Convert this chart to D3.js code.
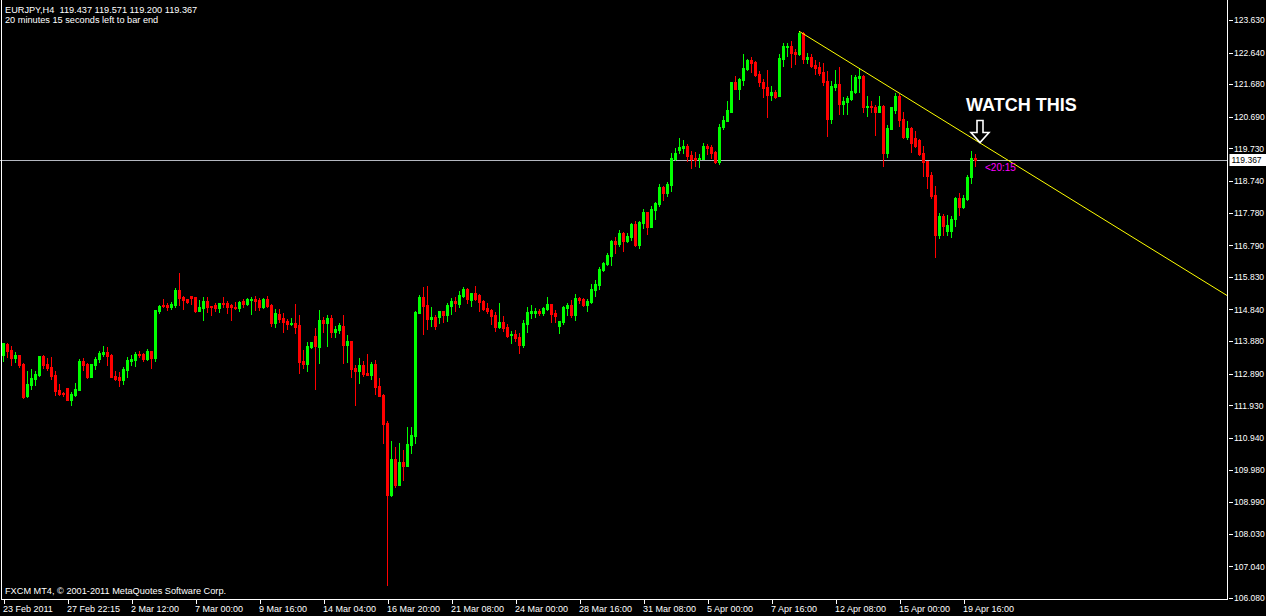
<!DOCTYPE html>
<html><head><meta charset="utf-8">
<script src="https://cdn.jsdelivr.net/npm/d3@7"></script>
<style>html,body{margin:0;padding:0;background:#000;overflow:hidden}</style>
</head><body>
<svg id="c" width="1266" height="616"></svg>
<script>
const symbol = "EURJPY,H4";
const lastBar = [119.437, 119.571, 119.200, 119.367];
const timerText = "20 minutes 15 seconds left to bar end";
const timeLeft = "<20:15";
const copyright = "FXCM MT4, \u00a9 2001-2011 MetaQuotes Software Corp.";
const note = "WATCH THIS";

const opens = [
113.45,113.79,113.60,113.36,113.45,113.18,112.20,112.55,112.73,112.84,
113.42,113.18,113.08,112.85,112.40,112.30,112.46,112.10,112.25,112.40,
113.27,113.18,112.79,113.15,113.33,113.48,113.54,113.45,112.82,112.79,
112.70,113.00,113.27,113.30,113.48,113.48,113.33,113.57,113.36,114.79,
114.98,114.98,114.91,114.98,115.42,115.21,115.15,115.24,115.21,114.79,
114.88,115.09,114.94,114.97,114.88,115.03,115.03,114.97,114.91,114.88,
115.09,115.00,115.12,115.15,115.12,114.91,115.15,114.97,114.43,114.70,
114.58,114.49,114.40,114.43,114.37,113.27,113.18,113.69,114.05,113.69,
114.52,114.43,114.58,114.17,114.22,114.34,113.75,113.87,113.06,112.97,
113.15,112.91,112.85,113.18,112.52,112.25,111.38,109.22,110.30,109.52,
110.21,110.09,110.72,110.99,114.73,115.21,114.97,114.55,114.61,114.61,
114.79,114.67,114.94,115.09,115.00,115.24,115.45,115.12,115.33,115.29,
115.09,114.88,114.82,114.67,114.31,114.46,114.31,114.07,114.10,114.01,
113.77,114.40,114.73,114.73,114.79,114.73,114.85,115.00,114.73,114.34,
114.46,114.88,114.97,114.67,115.20,115.17,114.97,115.06,115.44,115.59,
116.04,116.22,116.46,116.93,116.84,117.17,116.93,117.05,117.44,116.81,
117.47,117.80,117.35,117.86,118.04,118.57,118.37,118.63,119.41,119.68,
119.74,119.80,119.53,119.44,119.41,119.41,119.80,119.77,119.62,119.32,
120.39,120.57,120.84,121.74,121.53,121.80,122.15,122.42,122.36,121.98,
121.74,121.59,121.35,121.44,121.32,122.45,122.81,122.84,122.66,122.60,
123.23,122.45,122.51,122.27,122.21,122.04,121.77,120.63,121.59,121.68,
121.08,121.14,121.23,121.44,121.86,121.92,120.99,121.02,120.99,120.84,
121.02,119.59,120.33,120.90,121.32,120.63,120.07,120.36,120.04,119.98,
119.59,119.35,118.93,118.31,117.11,117.68,117.23,117.23,117.59,118.22,
117.95,118.19,118.87,119.437];

const highs = [
113.82,113.83,113.73,113.54,113.47,113.22,112.97,113.03,112.97,113.44,
113.45,113.36,113.39,112.97,112.58,112.35,112.46,112.34,112.61,113.33,
113.36,113.21,113.19,113.39,113.57,113.72,113.69,113.48,112.97,112.94,
113.09,113.39,113.45,113.54,113.57,113.51,113.63,113.58,114.82,114.97,
115.15,115.03,115.06,115.48,115.96,115.26,115.17,115.25,115.23,115.12,
115.21,115.21,114.95,115.03,115.04,115.21,115.09,115.01,115.06,115.09,
115.15,115.18,115.21,115.24,115.18,115.18,115.24,115.00,114.85,114.85,
114.73,114.55,114.58,115.00,114.67,113.60,113.84,113.85,114.28,114.82,
114.61,114.67,114.67,114.34,114.43,114.67,114.08,113.89,113.15,113.36,
113.27,113.48,113.24,113.30,112.76,112.28,111.44,110.84,110.66,110.78,
110.57,111.26,111.26,114.79,115.27,115.51,115.54,114.91,114.67,114.80,
114.80,115.03,115.18,115.21,115.39,115.51,115.48,115.35,115.54,115.32,
115.12,115.03,114.85,114.76,115.03,114.64,114.40,114.19,114.22,114.13,
114.52,114.91,114.97,114.88,114.85,114.91,115.23,115.02,114.82,114.50,
114.94,115.03,115.12,115.32,115.23,115.20,115.15,115.62,115.74,116.13,
116.28,116.55,116.94,117.05,117.26,117.18,117.17,117.47,117.53,117.53,
117.89,117.81,117.98,118.10,118.66,118.60,118.72,119.59,119.74,120.04,
119.98,119.86,119.65,119.62,119.56,119.89,119.86,119.83,119.65,120.48,
120.72,121.17,121.75,121.92,121.86,122.60,122.45,122.51,122.39,122.07,
121.83,122.10,121.62,121.50,122.60,122.93,122.93,122.99,122.75,123.29,
123.26,122.63,122.60,122.42,122.36,122.33,122.07,121.77,122.10,122.21,
121.29,121.32,121.95,121.95,122.18,121.95,121.32,121.17,121.05,121.32,
121.05,120.45,121.00,121.41,121.38,120.84,120.57,120.38,120.25,120.01,
119.80,119.36,119.02,118.60,117.77,117.74,117.71,117.68,118.25,118.37,
118.31,118.93,119.65,119.571];

const lows = [
113.28,113.40,113.15,113.24,113.09,112.15,112.17,112.43,112.55,112.82,
113.07,113.00,112.72,112.25,112.25,112.22,112.10,111.95,112.22,112.39,
113.00,112.76,112.78,113.03,113.24,113.42,113.15,112.78,112.70,112.52,
112.58,112.79,113.15,113.12,113.39,113.27,113.32,113.06,113.27,114.74,
114.92,114.83,114.86,114.92,114.98,114.86,115.05,115.01,114.77,114.78,
114.52,114.76,114.67,114.79,114.76,114.91,114.73,114.52,114.85,114.79,
114.91,114.99,114.70,114.82,114.82,114.90,114.91,114.34,114.31,114.46,
114.17,114.25,114.37,114.14,112.91,113.06,112.97,113.66,112.43,113.21,
114.17,113.72,113.99,114.02,114.14,113.21,113.24,112.79,111.95,112.61,
112.82,112.84,112.73,112.28,112.21,110.78,106.46,109.19,109.46,109.50,
109.67,110.08,110.48,110.78,114.72,114.11,114.25,114.34,114.25,114.43,
114.46,114.49,114.70,114.79,114.91,115.21,115.03,114.94,115.14,114.79,
114.82,114.73,114.40,114.19,114.29,114.19,114.01,113.83,113.89,113.53,
113.71,114.16,114.58,114.61,114.67,114.67,114.83,114.46,114.46,114.13,
114.40,114.67,114.61,114.52,115.03,114.94,114.79,115.05,115.25,115.47,
116.01,116.19,116.19,116.56,116.78,116.62,116.90,116.96,116.78,116.72,
117.32,117.14,117.33,117.59,117.98,118.16,118.28,118.43,119.39,119.59,
119.59,119.35,119.14,119.20,119.17,119.40,119.56,119.44,119.29,119.26,
120.33,120.56,120.83,121.52,121.23,121.65,122.12,122.04,121.94,121.62,
121.29,120.69,121.20,121.26,121.31,122.24,122.54,122.21,122.30,122.57,
122.33,122.33,122.21,121.98,121.95,121.65,120.10,120.51,121.50,120.78,
120.78,120.78,121.20,121.41,121.44,120.84,120.72,120.84,120.13,120.83,
119.20,119.47,120.32,120.81,120.42,120.05,120.01,119.62,119.77,119.53,
118.90,118.54,118.22,116.43,117.02,117.11,117.11,117.05,117.38,117.71,
117.93,118.17,118.69,119.200];

const closes = [
113.82,113.58,113.37,113.45,113.15,112.18,112.58,112.77,112.88,113.42,
113.15,113.07,112.82,112.37,112.28,112.27,112.10,112.28,112.43,113.27,
113.15,112.79,113.18,113.33,113.51,113.54,113.42,112.79,112.74,112.70,
113.03,113.30,113.33,113.48,113.45,113.33,113.57,113.36,114.81,114.96,
114.95,114.91,115.01,115.42,115.19,115.12,115.06,115.19,114.79,114.91,
115.09,114.91,114.91,114.89,115.03,115.00,114.91,114.91,114.89,115.06,
115.00,115.15,115.15,115.09,114.91,115.15,114.94,114.43,114.73,114.55,
114.46,114.40,114.43,114.31,113.24,113.18,113.72,113.84,113.72,114.52,
114.43,114.58,114.17,114.25,114.37,113.75,113.87,113.03,112.97,113.15,
112.88,112.85,113.18,112.49,112.22,111.35,109.22,110.30,109.52,110.21,
110.09,110.75,111.02,114.76,115.21,114.94,114.55,114.61,114.34,114.79,
114.67,114.97,115.09,115.03,115.27,115.45,115.15,115.33,115.15,115.06,
114.85,114.79,114.64,114.31,114.46,114.28,114.04,114.10,113.98,113.77,
114.43,114.76,114.79,114.79,114.73,114.88,115.00,114.70,114.64,114.49,
114.91,114.97,114.67,115.20,115.12,114.97,115.09,115.47,115.62,116.07,
116.25,116.49,116.93,116.84,117.17,116.93,117.08,117.44,116.81,117.50,
117.80,117.35,117.89,118.07,118.57,118.37,118.66,119.44,119.59,119.77,
119.80,119.50,119.41,119.38,119.44,119.80,119.74,119.59,119.32,120.39,
120.60,120.90,121.74,121.53,121.83,122.18,122.42,122.33,121.95,121.74,
121.56,121.35,121.44,121.29,122.48,122.84,122.84,122.63,122.60,123.23,
122.45,122.51,122.24,122.18,122.01,121.74,120.63,121.62,121.68,121.08,
121.17,121.26,121.47,121.89,121.92,120.99,121.02,120.99,120.84,121.02,
119.59,120.36,120.99,121.32,120.60,120.07,120.36,119.89,119.80,119.56,
119.32,118.90,118.28,117.11,117.68,117.38,117.41,117.59,118.22,117.95,
118.22,118.87,119.44,119.367];

const dateLabels = ["23 Feb 2011","27 Feb 22:15","2 Mar 12:00","7 Mar 00:00","9 Mar 16:00",
  "14 Mar 04:00","16 Mar 20:00","21 Mar 08:00","24 Mar 00:00","28 Mar 16:00","31 Mar 08:00",
  "5 Apr 00:00","7 Apr 16:00","12 Apr 08:00","15 Apr 00:00","19 Apr 16:00"];
const dateLabelStep = 16;
const priceTicks = [123.63,122.64,121.68,120.69,119.73,118.74,117.78,116.79,115.83,114.84,
  113.88,112.89,111.93,110.94,109.98,108.99,108.03,107.04,106.08];
const trendAnchors = [[199,123.29],[243,119.99]];

// ---- layout ----
const svg = d3.select("#c");
const axisX = 1227.5, axisY = 599.5;
const FONT = "'Liberation Sans', Arial, sans-serif";
const x = d3.scaleLinear().domain([0, 243]).range([3, 975]);
const y = d3.scaleLinear().domain([106.08, 123.63]).range([598, 20]);

svg.append("rect").attr("width",1266).attr("height",616).attr("fill","#000");

const bars = d3.range(opens.length).map(i => ({i, o:opens[i], h:highs[i], l:lows[i], c:closes[i]}));

// bid line
const bidY = Math.round(y(lastBar[3])) + 0.5;
svg.append("line").attr("x1",0).attr("x2",axisX).attr("y1",bidY).attr("y2",bidY)
  .attr("stroke","#b4b8c0").attr("stroke-width",1).attr("shape-rendering","crispEdges");

// candles
const g = svg.append("g").attr("shape-rendering","crispEdges");
bars.forEach(b => {
  const cx = Math.round(x(b.i));
  const col = b.c >= b.o ? "#00ff00" : "#ff0000";
  const yh = Math.round(y(b.h)), yl = Math.round(y(b.l));
  g.append("rect").attr("x",cx).attr("y",yh).attr("width",1).attr("height",Math.max(1,yl-yh+1)).attr("fill",col);
  const yt = Math.round(y(Math.max(b.o,b.c))), yb = Math.round(y(Math.min(b.o,b.c)));
  g.append("rect").attr("x",cx-1).attr("y",yt).attr("width",3).attr("height",Math.max(1,yb-yt+1)).attr("fill",col);
});

// trendline
const slope = (trendAnchors[1][1]-trendAnchors[0][1])/(trendAnchors[1][0]-trendAnchors[0][0]);
const trendAt = i => trendAnchors[0][1] + slope*(i-trendAnchors[0][0]);
const iEnd = x.invert(axisX);
svg.append("line")
  .attr("x1",x(trendAnchors[0][0])).attr("y1",y(trendAnchors[0][1]))
  .attr("x2",x(iEnd)).attr("y2",y(trendAt(iEnd)))
  .attr("stroke","#ffff00").attr("stroke-width",1);

// frame
svg.append("line").attr("x1",1.5).attr("x2",1.5).attr("y1",0).attr("y2",axisY).attr("stroke","#fff").attr("shape-rendering","crispEdges");
svg.append("line").attr("x1",axisX).attr("x2",axisX).attr("y1",0).attr("y2",axisY).attr("stroke","#fff").attr("shape-rendering","crispEdges");
svg.append("line").attr("x1",1).attr("x2",axisX).attr("y1",axisY).attr("y2",axisY).attr("stroke","#fff").attr("shape-rendering","crispEdges");

// price axis
const yAxis = d3.axisRight(y).tickValues(priceTicks).tickFormat(d3.format(".3f")).tickSize(4).tickSizeOuter(0);
const ya = svg.append("g").attr("transform",`translate(${axisX+1},0)`).call(yAxis);
ya.select(".domain").remove();
ya.selectAll("line").attr("stroke","#fff").attr("shape-rendering","crispEdges");
ya.selectAll("text").attr("fill","#fff").attr("x",5.5).style("font-family",FONT).style("font-size","8.5px");

// bid label
const bidBox = svg.append("g");
bidBox.append("rect").attr("x",axisX+2).attr("y",bidY-6.5).attr("width",1266-axisX-2).attr("height",12).attr("fill","#fff");
bidBox.append("text").attr("x",axisX+4).attr("y",bidY).attr("dy","0.33em").attr("fill","#000")
  .style("font-family",FONT).style("font-size","8.5px").text(d3.format(".3f")(lastBar[3]));

// time axis
const tickIdx = dateLabels.map((d,k)=>k*dateLabelStep);
const xAxis = d3.axisBottom(x).tickValues(tickIdx).tickFormat((d,k)=>dateLabels[k]).tickSize(4).tickSizeOuter(0);
const xa = svg.append("g").attr("transform",`translate(0.5,${axisY})`).call(xAxis);
xa.select(".domain").remove();
xa.selectAll("line").attr("stroke","#fff").attr("shape-rendering","crispEdges");
xa.selectAll("text").attr("fill","#fff").attr("text-anchor","start").attr("x",-1).attr("y",4).attr("dy","0.95em")
  .style("font-family",FONT).style("font-size","9px");

// header texts
const tx = (t,xx,yy,opt={}) => svg.append("text").attr("x",xx).attr("y",yy).attr("fill",opt.fill||"#fff")
  .style("font-family",FONT).style("font-size",(opt.size||9.2)+"px").style("font-weight",opt.weight||"normal").text(t);
tx(`${symbol}  ${lastBar.map(v=>v.toFixed(3)).join(" ")}`, 5, 12.5).attr("xml:space","preserve").style("white-space","pre");
tx(timerText, 5, 23);
tx(copyright, 5, 594);

// time-left marker
tx(timeLeft, x(243)+10, y(lastBar[3])+11, {fill:"#ff00ff", size:10});

// annotation
tx(note, 966, 111, {size:18, weight:"bold"});
const tipI = 244.25;
const tX = x(tipI), tY = y(trendAt(tipI)) - 0.5;
const ap = [[tX-3,tY-22],[tX+3,tY-22],[tX+3,tY-10],[tX+9,tY-10],[tX,tY],[tX-9,tY-10],[tX-3,tY-10]];
svg.append("path").attr("d", d3.line()(ap)+"Z").attr("fill","#000").attr("stroke","#fff").attr("stroke-width",1.6).attr("stroke-linejoin","miter");
</script>
</body></html>
